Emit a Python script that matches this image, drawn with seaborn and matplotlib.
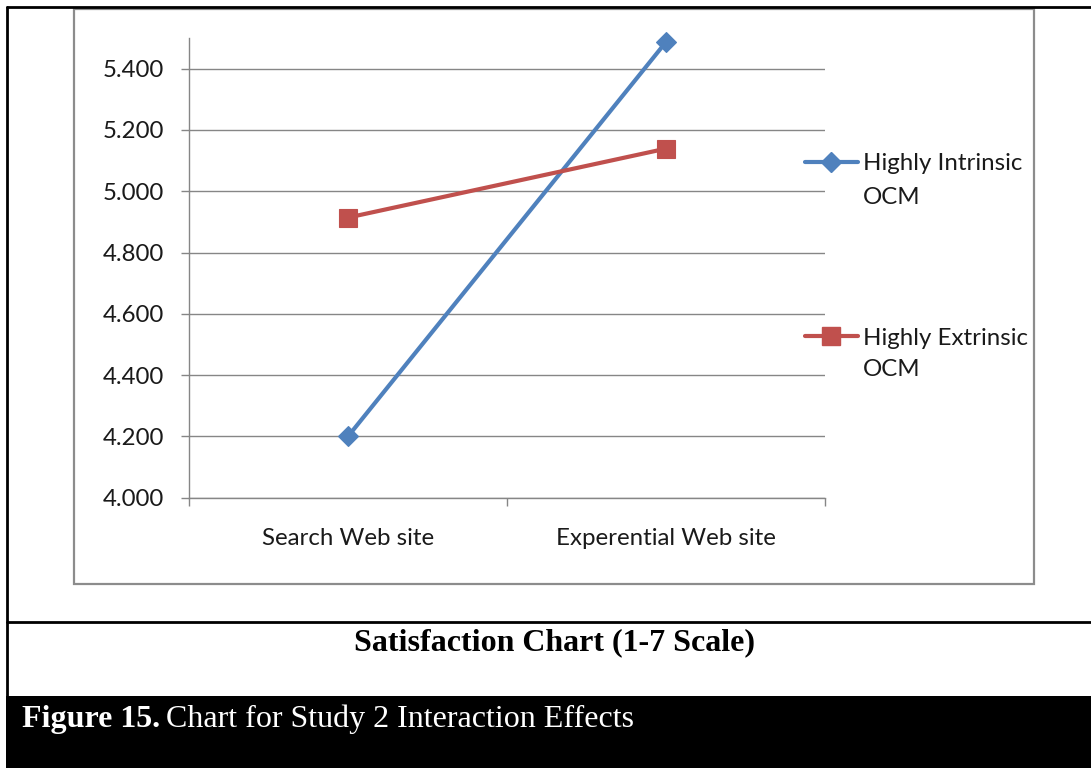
import matplotlib
matplotlib.use("Agg")
import matplotlib.pyplot as plt
import seaborn as sns
import pandas as pd
from matplotlib.lines import Line2D
from matplotlib.patches import Rectangle
from matplotlib.ticker import FixedLocator, FormatStrFormatter

# ---- data ----
categories = ["Search Web site", "Experential Web site"]
intrinsic = [4.200, 5.487]
extrinsic = [4.914, 5.139]
series_names = ["Highly Intrinsic OCM", "Highly Extrinsic OCM"]
legend_first = ["Highly Intrinsic", "Highly Extrinsic"]
legend_second = ["OCM", "OCM"]
y_ticks = [4.0, 4.2, 4.4, 4.6, 4.8, 5.0, 5.2, 5.4]
title_text = "Satisfaction Chart (1-7 Scale)"
caption_bold = "Figure 15."
caption_rest = "Chart for Study 2 Interaction Effects"

colors = {series_names[0]: "#4F81BD", series_names[1]: "#C0504D"}
markers = {series_names[0]: "D", series_names[1]: "s"}

sns.set_theme(style="white")
plt.rcParams["font.family"] = ["Lato", "DejaVu Sans"]

W, H = 1091, 768
fig = plt.figure(figsize=(W / 100, H / 100), dpi=100)
fig.patch.set_facecolor("white")


def fx(px):
    return px / W


def fy(py):
    return 1 - py / H


ax = fig.add_axes([fx(189), fy(497.7), fx(825) - fx(189), fy(38) - fy(497.7)])

df = pd.DataFrame({
    "site": categories * 2,
    "value": intrinsic + extrinsic,
    "series": [series_names[0]] * len(categories) + [series_names[1]] * len(categories),
})

sns.lineplot(data=df, x="site", y="value", hue="series", style="series",
             markers=markers, dashes=False, palette=colors, linewidth=3,
             legend=False, ax=ax, sort=False)

for ln in ax.lines:
    ln.set_markeredgewidth(0.8)
    ln.set_markeredgecolor(ln.get_color())
    ln.set_solid_capstyle("round")
    ln.set_clip_on(False)
    if ln.get_marker() == "D":
        ln.set_markersize(10)
    else:
        ln.set_markersize(12.5)
    ln.set_zorder(3)

ax.set_xlim(-0.5, 1.5)
ax.set_ylim(4.0, 5.5)
ax.set_xlabel("")
ax.set_ylabel("")

grid_c = "#868686"
ax.yaxis.set_major_locator(FixedLocator(y_ticks))
ax.yaxis.set_major_formatter(FormatStrFormatter("%.3f"))
ax.set_axisbelow(True)
ax.yaxis.grid(True, color=grid_c, linewidth=1.0)
ax.xaxis.grid(False)

for side in ["top", "right"]:
    ax.spines[side].set_visible(False)
for side in ["left", "bottom"]:
    ax.spines[side].set_color(grid_c)
    ax.spines[side].set_linewidth(1.0)

text_c = "#1a1a1a"
fs = 17.3
ax.tick_params(axis="y", which="major", direction="out", length=6, width=1.0,
               color=grid_c, labelsize=fs, pad=12, labelcolor=text_c, left=True)
ax.xaxis.set_minor_locator(FixedLocator([-0.5, 0.5, 1.5]))
ax.tick_params(axis="x", which="major", length=0, labelsize=fs, pad=22,
               labelcolor=text_c, bottom=True)
ax.tick_params(axis="x", which="minor", direction="out", length=6, width=1.0,
               color=grid_c, bottom=True)

# ---- legends ----
leg_y = [164, 338]
ocm_y = [197, 369]
for i, name in enumerate(series_names):
    h = Line2D([], [], color=colors[name], lw=3, marker=markers[name],
               markersize=10 if markers[name] == "D" else 12.5,
               markeredgecolor=colors[name])
    lg = fig.legend([h], [legend_first[i]], loc="center left",
                    bbox_to_anchor=(fx(805), fy(leg_y[i])), frameon=False,
                    borderpad=0, borderaxespad=0, handlelength=38 / fs,
                    handletextpad=4 / fs, fontsize=fs)
    for t in lg.get_texts():
        t.set_color(text_c)
    fig.text(fx(863), fy(ocm_y[i]), legend_second[i], fontsize=fs,
             color=text_c, ha="left", va="center")

# ---- decorations ----
fig.add_artist(Rectangle((fx(74), fy(584)), fx(1034) - fx(74), fy(9) - fy(584),
                         transform=fig.transFigure, fill=False,
                         edgecolor="#8c8c8c", linewidth=1.6))
fig.add_artist(Line2D([fx(7), fx(7)], [0, fy(7)], transform=fig.transFigure,
                      color="black", linewidth=2))
fig.add_artist(Line2D([fx(7), 1], [fy(7), fy(7)], transform=fig.transFigure,
                      color="black", linewidth=2))
fig.add_artist(Line2D([fx(7), 1], [fy(622), fy(622)], transform=fig.transFigure,
                      color="black", linewidth=2))
fig.add_artist(Rectangle((fx(6), 0), 1 - fx(6), fy(696),
                         transform=fig.transFigure, facecolor="black",
                         edgecolor="none"))

fig.text(fx(554), fy(650), title_text, ha="center", va="baseline",
         family="Liberation Serif", weight="bold", fontsize=23, color="black")

t1 = fig.text(fx(22), fy(727), caption_bold, ha="left", va="baseline",
              family="Liberation Serif", weight="bold", fontsize=23, color="white")
fig.canvas.draw()
bb = t1.get_window_extent(renderer=fig.canvas.get_renderer())
fig.text(bb.x1 / W + fx(6), fy(727), caption_rest, ha="left", va="baseline",
         family="Liberation Serif", fontsize=23, color="white")

fig.savefig("out.png", dpi=100, facecolor="white")
